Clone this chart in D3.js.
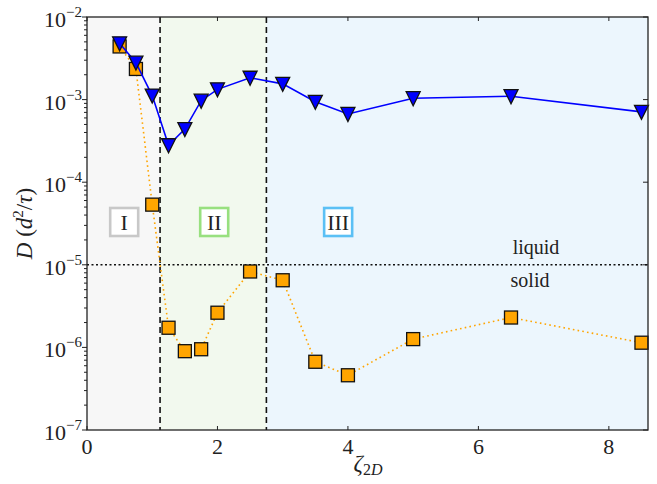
<!DOCTYPE html>
<html><head><meta charset="utf-8">
<script src="https://d3js.org/d3.v7.min.js"></script>
<style>body{margin:0;background:#fff}svg{display:block}</style>
</head><body>
<script>
const zeta = [0.5, 0.75, 1.0, 1.25, 1.5, 1.75, 2.0, 2.5, 3.0, 3.5, 4.0, 5.0, 6.5, 8.5];
const liquidD = [4.8e-3, 2.8e-3, 1.12e-3, 2.8e-4, 4.4e-4, 9.7e-4, 1.33e-3, 1.84e-3, 1.55e-3, 9.4e-4, 6.7e-4, 1.04e-3, 1.1e-3, 7.1e-4];
const solidD = [4.4e-3, 2.35e-3, 5.35e-5, 1.73e-6, 9.0e-7, 9.5e-7, 2.63e-6, 8.3e-6, 6.5e-6, 6.7e-7, 4.6e-7, 1.26e-6, 2.3e-6, 1.14e-6];
const boundaries = [1.12, 2.75];
const regionNames = ["I", "II", "III"];
const regionLabelX = [0.57, 1.95, 3.85];
const threshold = 1e-5;
const xTicks = [0, 2, 4, 6, 8];
const yTickExp = [-7, -6, -5, -4, -3, -2];

const W = 657, H = 484;
const m = {l: 87, r: 9, t: 17, b: 54};
const svg = d3.select("body").append("svg").attr("width", W).attr("height", H);
const x = d3.scaleLinear().domain([0, 8.6]).range([m.l, W - m.r]);
const y = d3.scaleLog().domain([1e-7, 1e-2]).range([H - m.b, m.t]);
const font = "'Liberation Serif', 'DejaVu Serif', serif";

const regionFill = ["#f7f7f7", "#f2f9ee", "#ecf6fd"];
const regionStroke = ["#c8c8c8", "#98e07f", "#5bc0f5"];
const edges = [0, ...boundaries, 8.6];
regionNames.forEach((n, i) => {
  svg.append("rect").attr("x", x(edges[i])).attr("y", m.t)
    .attr("width", x(edges[i+1]) - x(edges[i])).attr("height", y(1e-7) - m.t)
    .attr("fill", regionFill[i]);
});

// minor ticks left (outward)
const minor = [];
for (let e = -7; e < -2; e++) for (let k = 2; k <= 9; k++) minor.push(k * Math.pow(10, e));
const g = svg.append("g");
minor.forEach(v => {
  g.append("line").attr("x1", m.l - 3).attr("x2", m.l).attr("y1", y(v)).attr("y2", y(v)).attr("stroke", "#222").attr("stroke-width", 1);
});
yTickExp.forEach(e => {
  const v = Math.pow(10, e);
  g.append("line").attr("x1", m.l - 5).attr("x2", m.l).attr("y1", y(v)).attr("y2", y(v)).attr("stroke", "#222").attr("stroke-width", 1);
  g.append("line").attr("x1", W - m.r - 5).attr("x2", W - m.r).attr("y1", y(v)).attr("y2", y(v)).attr("stroke", "#222").attr("stroke-width", 1);
  const t = g.append("text").attr("x", m.l - 5).attr("y", y(v) + 10).attr("text-anchor", "end")
    .attr("font-family", font).attr("font-size", 22).attr("fill", "#222");
  t.append("tspan").text("10");
  t.append("tspan").attr("dy", -10).attr("font-size", 15).text("\u2212" + (-e));
});
xTicks.forEach(v => {
  g.append("line").attr("x1", x(v)).attr("x2", x(v)).attr("y1", y(1e-7)).attr("y2", y(1e-7) - 4).attr("stroke", "#222");
  g.append("line").attr("x1", x(v)).attr("x2", x(v)).attr("y1", m.t).attr("y2", m.t + 4).attr("stroke", "#222");
  g.append("text").attr("x", x(v)).attr("y", y(1e-7) + 24).attr("text-anchor", "middle")
    .attr("font-family", font).attr("font-size", 22).attr("fill", "#222").text(v);
});

// region boundaries
boundaries.forEach(b => {
  svg.append("line").attr("x1", x(b)).attr("x2", x(b)).attr("y1", m.t).attr("y2", y(1e-7))
    .attr("stroke", "#111").attr("stroke-width", 1.6).attr("stroke-dasharray", "6,4");
});
svg.append("line").attr("x1", m.l).attr("x2", W - m.r).attr("y1", y(threshold)).attr("y2", y(threshold))
  .attr("stroke", "#111").attr("stroke-width", 1.5).attr("stroke-dasharray", "2,2.5");

svg.append("text").attr("x", 536).attr("y", y(threshold) - 11).attr("text-anchor", "middle")
  .attr("font-family", font).attr("font-size", 20).attr("fill", "#222").text("liquid");
svg.append("text").attr("x", 530).attr("y", y(threshold) + 22).attr("text-anchor", "middle")
  .attr("font-family", font).attr("font-size", 20).attr("fill", "#222").text("solid");

// region label boxes
regionNames.forEach((n, i) => {
  const cx = x(regionLabelX[i]), cy = 222;
  svg.append("rect").attr("x", cx - 14).attr("y", cy - 14).attr("width", 28).attr("height", 28)
    .attr("fill", "#fff").attr("stroke", regionStroke[i]).attr("stroke-width", 2.6);
  svg.append("text").attr("x", cx).attr("y", cy + 7.5).attr("text-anchor", "middle")
    .attr("font-family", font).attr("font-size", 22).attr("fill", "#222").text(n);
});

// solid series (orange squares, dotted)
const pts = (arr) => zeta.map((z, i) => [z, arr[i]]);
const line = d3.line().x(d => x(d[0])).y(d => y(d[1]));
svg.append("path").attr("d", line(pts(solidD))).attr("fill", "none")
  .attr("stroke", "#ffa500").attr("stroke-width", 1.6).attr("stroke-dasharray", "1.6,3.2");
svg.selectAll(".sq").data(pts(solidD)).enter().append("rect")
  .attr("x", d => x(d[0]) - 6.5).attr("y", d => y(d[1]) - 6.5).attr("width", 13).attr("height", 13)
  .attr("fill", "#ffa500").attr("stroke", "#111").attr("stroke-width", 1.3);

// liquid series (blue triangles)
svg.append("path").attr("d", line(pts(liquidD))).attr("fill", "none")
  .attr("stroke", "#0000ff").attr("stroke-width", 1.6);
const tri = d3.symbol().type(d3.symbolTriangle).size(95);
svg.selectAll(".tri").data(pts(liquidD)).enter().append("path")
  .attr("d", "M-7,-6.5L7,-6.5L0,7.5Z")
  .attr("transform", d => `translate(${x(d[0])},${y(d[1])})`)
  .attr("fill", "#0000ff").attr("stroke", "#111").attr("stroke-width", 1.3);

// frame
svg.append("rect").attr("x", m.l).attr("y", m.t).attr("width", W - m.r - m.l).attr("height", y(1e-7) - m.t)
  .attr("fill", "none").attr("stroke", "#222").attr("stroke-width", 1.3);

// axis labels
const yl = svg.append("text").attr("transform", `translate(32,${(m.t + y(1e-7)) / 2}) rotate(-90)`)
  .attr("text-anchor", "middle").attr("font-family", font).attr("font-size", 23).attr("fill", "#222");
yl.append("tspan").attr("font-style", "italic").text("D");
yl.append("tspan").text(" (");
yl.append("tspan").attr("font-style", "italic").text("d");
yl.append("tspan").attr("dy", -9).attr("font-size", 15).text("2");
yl.append("tspan").attr("dy", 9).text("/");
yl.append("tspan").attr("font-style", "italic").text("\u03c4");
yl.append("tspan").text(")");

const xl = svg.append("text").attr("x", 368).attr("y", 471).attr("text-anchor", "middle")
  .attr("font-family", font).attr("font-size", 23).attr("fill", "#222");
xl.append("tspan").attr("font-style", "italic").text("\u03b6");
xl.append("tspan").attr("dy", 4).attr("font-size", 16).text("2");
xl.append("tspan").attr("font-size", 16).attr("font-style", "italic").text("D");
</script>
</body></html>
